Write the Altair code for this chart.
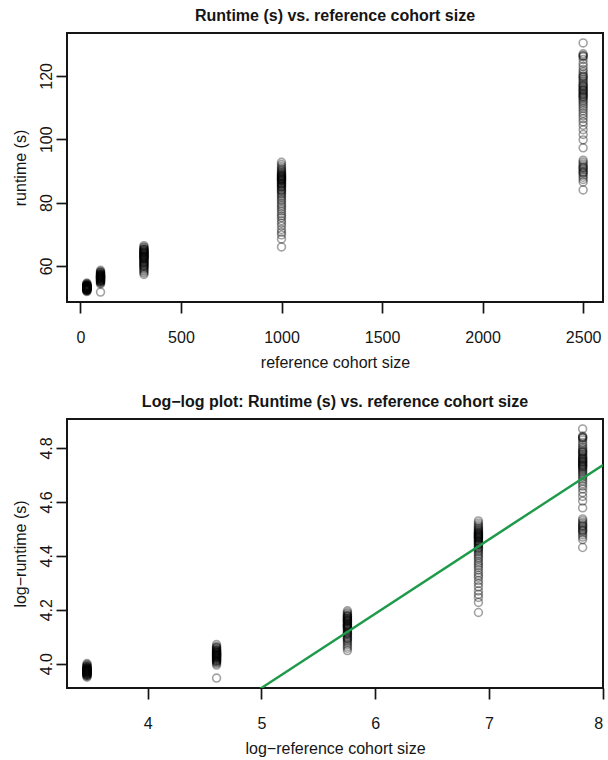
import altair as alt
import pandas as pd
import numpy as np

# reference cohort sizes
sizes = [32, 100, 316, 1000, 2500]

# runtimes (s), one list per cohort size
rt_32 = [51.9, 52.1, 52.2, 52.3, 52.4, 52.4, 52.5, 52.6, 52.6, 52.7, 52.7, 52.8, 52.8,
         52.9, 52.9, 53.0, 53.0, 53.0, 53.1, 53.1, 53.2, 53.2, 53.2, 53.3, 53.3, 53.4,
         53.4, 53.5, 53.5, 53.6, 53.6, 53.7, 53.7, 53.8, 53.9, 54.0, 54.1, 54.2, 54.4, 54.6]
rt_100 = [51.75, 54.3, 54.6, 54.8, 55.0, 55.2, 55.3, 55.5, 55.6, 55.7, 55.8, 55.9, 56.0,
          56.1, 56.2, 56.3, 56.4, 56.5, 56.6, 56.7, 56.8, 56.9, 57.0, 57.1, 57.3, 57.5,
          57.7, 57.9, 58.2, 58.6, 55.4, 56.0, 56.4, 56.9, 57.2, 55.1, 56.6, 57.4, 58.0, 56.2]
rt_316 = [57.3, 57.8, 58.2, 58.6, 59.0, 59.3, 59.6, 59.9, 60.2, 60.5, 60.8, 61.0, 61.3,
          61.5, 61.8, 62.0, 62.2, 62.4, 62.6, 62.8, 63.0, 63.2, 63.4, 63.6, 63.8, 64.0,
          64.2, 64.4, 64.6, 64.8, 65.0, 65.2, 65.4, 65.7, 66.0, 66.4, 61.1, 62.5, 63.1,
          63.9, 64.5, 65.1, 60.0, 62.9, 64.1]
rt_1000 = [66.0, 68.5, 69.8, 70.6, 71.5, 72.6, 73.5, 74.3, 75.2, 75.8, 76.5, 77.3, 78.0,
           78.6, 79.2, 79.8, 80.5, 81.0, 81.6, 82.1, 82.6, 83.0, 83.5, 84.0, 84.4, 84.8,
           85.2, 85.5, 85.8, 86.1, 86.4, 86.7, 87.0, 87.2, 87.5, 87.7, 88.0, 88.2, 88.4,
           88.7, 89.0, 89.2, 89.5, 89.8, 90.1, 90.5, 90.9, 91.4, 92.0, 92.7, 86.0, 87.3,
           88.1, 87.6, 86.9, 88.6, 85.0, 83.8]
rt_2500 = [84.0, 86.5, 87.3, 88.0, 88.6, 89.2, 89.7, 90.2, 90.7, 91.2, 91.7, 92.2, 92.8,
           93.4, 97.3, 99.8, 101.5, 103.0, 104.4, 105.5, 106.5, 107.4, 108.2, 109.0,
           109.7, 110.4, 111.0, 111.6, 112.1, 112.6, 113.1, 113.6, 114.0, 114.5, 114.9,
           115.3, 115.7, 116.1, 116.5, 117.0, 117.4, 117.9, 118.4, 118.9, 119.4, 120.0,
           120.6, 121.3, 122.0, 123.0, 124.0, 125.2, 126.0, 126.5, 127.0, 130.4, 114.2,
           115.5, 116.8, 113.4, 119.8, 126.3, 91.0, 89.5]

# fitted line in the log-log plot
fit_intercept = 2.532
fit_slope = 0.2755

x_ticks_top = [0, 500, 1000, 1500, 2000, 2500]
y_ticks_top = [60, 80, 100, 120]
x_ticks_bot = [4, 5, 6, 7, 8]
y_ticks_bot = [4.0, 4.2, 4.4, 4.6, 4.8]
x_domain_bot = [3.29, 8.003]

groups = [rt_32, rt_100, rt_316, rt_1000, rt_2500]
rows = [(s, v) for s, vals in zip(sizes, groups) for v in vals]
df = pd.DataFrame(rows, columns=["size", "runtime"])
df["log_size"] = np.log(df["size"])
df["log_runtime"] = np.log(df["runtime"])


def r_range(series):
    lo, hi = float(series.min()), float(series.max())
    pad = 0.04 * (hi - lo)
    return [lo - pad, hi + pad]


xdom_top = r_range(df["size"])
ydom_top = r_range(df["runtime"])
ydom_bot = r_range(df["log_runtime"])

line_df = pd.DataFrame({"log_size": x_domain_bot})
line_df["fit"] = fit_intercept + fit_slope * line_df["log_size"]

FONT = "Liberation Sans"
INK = "#151515"
W, H = 536, 269


def xaxis(title, values, fmt):
    return alt.Axis(title=title, values=values, format=fmt, domain=False, grid=False,
                    tickSize=11, tickWidth=1.7, tickColor=INK,
                    labelFont=FONT, labelFontSize=16, labelColor=INK,
                    labelPadding=16, titleFont=FONT, titleFontSize=16,
                    titleFontWeight="normal", titleColor=INK,
                    titleY=60, titleBaseline="middle")


def yaxis(title, values, fmt):
    return alt.Axis(title=title, values=values, format=fmt, domain=False, grid=False,
                    tickSize=11, tickWidth=1.7, tickColor=INK,
                    labelFont=FONT, labelFontSize=16, labelColor=INK,
                    labelAngle=270, labelAlign="center", labelBaseline="middle",
                    labelPadding=10, titleFont=FONT, titleFontSize=16,
                    titleFontWeight="normal", titleColor=INK,
                    titleX=-47, titleY=H / 2, titleAngle=270,
                    titleAlign="center", titleBaseline="middle")


def ttl(text):
    return alt.TitleParams(text=text, font=FONT, fontSize=16, fontWeight="bold",
                           color=INK, offset=9, anchor="middle")


PT = dict(shape="circle", filled=False, size=62, strokeWidth=1.6, color="black",
          opacity=0.36)

top = alt.Chart(df).mark_point(**PT).encode(
    x=alt.X("size:Q", scale=alt.Scale(domain=xdom_top, nice=False, zero=False),
            axis=xaxis("reference cohort size", x_ticks_top, "d")),
    y=alt.Y("runtime:Q", scale=alt.Scale(domain=ydom_top, nice=False, zero=False),
            axis=yaxis("runtime (s)", y_ticks_top, "d")),
).properties(width=W, height=H, title=ttl("Runtime (s) vs. reference cohort size"))

pts_bot = alt.Chart(df).mark_point(**PT).encode(
    x=alt.X("log_size:Q", scale=alt.Scale(domain=x_domain_bot, nice=False, zero=False),
            axis=xaxis("log\u2212reference cohort size", x_ticks_bot, "d")),
    y=alt.Y("log_runtime:Q", scale=alt.Scale(domain=ydom_bot, nice=False, zero=False),
            axis=yaxis("log\u2212runtime (s)", y_ticks_bot, ".1f")),
)
fit_line = alt.Chart(line_df).mark_line(color="#1f9a4a", strokeWidth=2.4, clip=True).encode(
    x="log_size:Q", y="fit:Q")

bottom = alt.layer(pts_bot, fit_line).properties(
    width=W, height=H, title=ttl("Log\u2212log plot: Runtime (s) vs. reference cohort size"))

chart = alt.vconcat(top, bottom, spacing=22).properties(
    padding={"left": 11, "top": 7, "right": 0, "bottom": 0},
    background="white",
).configure_view(stroke=INK, strokeWidth=2)

chart.save("out.html", embed_options={"renderer": "svg", "actions": False})
